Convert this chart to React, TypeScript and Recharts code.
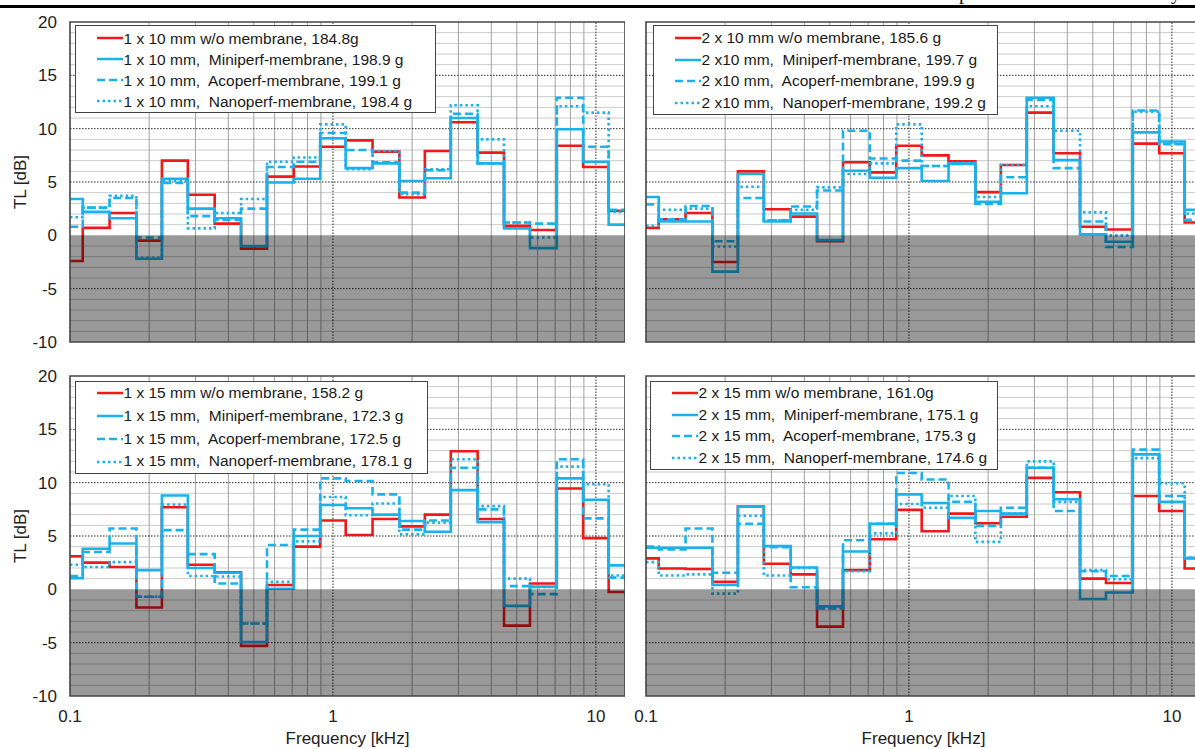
import {
  ComposedChart,
  Line,
  XAxis,
  YAxis,
  ReferenceLine,
  ReferenceArea,
  Legend,
  Label,
} from 'recharts';

// third-octave band centre frequencies [kHz]
const BANDS = [0.1, 0.125, 0.16, 0.2, 0.25, 0.315, 0.4, 0.5, 0.63, 0.8, 1, 1.25, 1.6, 2, 2.5, 3.15, 4, 5, 6.3, 8, 10, 12.5];
const X_DOMAIN: [number, number] = [0.1, 12.9];
const Y_DOMAIN: [number, number] = [-10, 20];
const X_TICKS = [0.1, 1, 10];
const X_TICK_LABELS = ['0.1', '1', '10'];
const X_MINOR = [0.2, 0.3, 0.4, 0.5, 0.6, 0.7, 0.8, 0.9, 2, 3, 4, 5, 6, 7, 8, 9];
const Y_TICKS = [-10, -5, 0, 5, 10, 15, 20];
const Y_MAJOR = [-5, 5, 10, 15];
const Y_MINOR = [-9, -8, -7, -6, -4, -3, -2, -1, 1, 2, 3, 4, 6, 7, 8, 9, 11, 12, 13, 14, 16, 17, 18, 19];

// 1 x 10 mm
const A_NAMES = [
  '1 x 10 mm w/o membrane, 184.8g',
  '1 x 10 mm,  Miniperf-membrane, 198.9 g',
  '1 x 10 mm,  Acoperf-membrane, 199.1 g',
  '1 x 10 mm,  Nanoperf-membrane, 198.4 g',
];
const A_RED = [-2.4, 0.7, 2.1, -0.5, 7.0, 3.8, 1.1, -1.25, 5.5, 6.45, 8.3, 8.9, 7.85, 3.55, 7.9, 10.6, 7.75, 0.9, 0.5, 8.4, 6.4, 2.3];
const A_MINI = [3.4, 2.2, 1.6, -2.2, 5.3, 2.5, 1.6, -1.0, 4.95, 5.3, 9.1, 6.3, 6.75, 5.1, 5.35, 11.0, 6.75, 0.65, -1.2, 9.95, 6.9, 1.0];
const A_ACO = [0.8, 2.6, 3.5, -0.2, 4.9, 1.8, 1.45, 2.5, 6.4, 6.9, 9.6, 8.0, 6.85, 4.0, 6.1, 11.4, 6.75, 1.2, 1.1, 12.9, 8.3, 2.4];
const A_NANO = [1.7, 2.6, 3.7, -2.1, 5.1, 0.65, 2.1, 3.4, 6.9, 7.3, 10.4, 6.2, 7.9, 3.85, 6.2, 12.2, 9.0, 1.2, -0.2, 12.1, 11.5, 2.2];

// 2 x 10 mm
const B_NAMES = [
  '2 x 10 mm w/o membrane, 185.6 g',
  '2 x10 mm,  Miniperf-membrane, 199.7 g',
  '2 x10 mm,  Acoperf-membrane, 199.9 g',
  '2 x10 mm,  Nanoperf-membrane, 199.2 g',
];
const B_RED = [0.7, 1.5, 2.1, -2.5, 6.0, 2.45, 1.75, -0.55, 6.85, 5.9, 8.4, 7.5, 6.95, 4.05, 6.6, 11.5, 7.7, 0.8, 0.55, 8.6, 7.7, 1.2];
const B_MINI = [3.6, 1.3, 1.3, -3.4, 5.75, 1.3, 2.05, -0.45, 6.05, 5.4, 6.3, 5.1, 6.7, 3.15, 3.95, 12.9, 7.05, 0.1, -0.6, 9.65, 8.8, 2.4];
const B_ACO = [2.9, 1.5, 2.75, -0.55, 3.5, 1.4, 2.7, 4.2, 9.8, 7.2, 7.0, 6.5, 6.75, 2.95, 5.45, 12.7, 6.3, 1.3, -1.1, 11.7, 8.55, 1.45];
const B_NANO = [0.9, 2.4, 2.5, -1.05, 4.55, 1.4, 2.4, 4.5, 5.75, 6.75, 10.4, 6.5, 6.8, 3.6, 6.6, 12.1, 9.8, 2.15, 0.0, 11.6, 8.6, 2.05];

// 1 x 15 mm
const C_NAMES = [
  '1 x 15 mm w/o membrane, 158.2 g',
  '1 x 15 mm,  Miniperf-membrane, 172.3 g',
  '1 x 15 mm,  Acoperf-membrane, 172.5 g',
  '1 x 15 mm,  Nanoperf-membrane, 178.1 g',
];
const C_RED = [3.1, 2.5, 2.1, -1.7, 7.7, 2.3, 1.6, -5.3, 0.4, 4.0, 6.45, 5.1, 6.6, 5.9, 7.0, 12.95, 6.6, -3.4, 0.55, 9.45, 4.8, -0.25];
const C_MINI = [1.05, 3.8, 4.3, 1.8, 8.8, 2.0, 1.55, -4.95, 0.05, 5.0, 7.9, 7.6, 7.0, 6.4, 5.4, 9.3, 6.3, -1.55, 0.25, 10.4, 8.4, 2.25];
const C_ACO = [1.25, 3.5, 5.7, -0.7, 5.55, 3.3, 0.55, -3.2, 4.15, 5.6, 10.4, 10.15, 8.9, 5.6, 6.45, 11.4, 7.5, 0.3, -0.45, 12.2, 6.65, 1.1];
const C_NANO = [2.3, 2.1, 2.55, -0.7, 7.95, 1.25, 1.2, -3.2, 0.7, 4.5, 8.65, 6.95, 8.05, 5.15, 6.25, 12.2, 7.8, 1.0, 0.2, 11.5, 9.85, 1.3];

// 2 x 15 mm
const D_NAMES = [
  '2 x 15 mm w/o membrane, 161.0g',
  '2 x 15 mm,  Miniperf-membrane, 175.1 g',
  '2 x 15 mm,  Acoperf-membrane, 175.3 g',
  '2 x 15 mm,  Nanoperf-membrane, 174.6 g',
];
const D_RED = [2.9, 1.95, 1.9, 0.7, 7.75, 2.4, 1.4, -3.5, 1.8, 4.7, 7.45, 5.45, 7.1, 6.2, 6.8, 10.45, 9.1, 1.0, 0.6, 8.75, 7.35, 1.95];
const D_MINI = [3.9, 3.9, 3.9, 0.4, 7.75, 4.05, 2.05, -1.6, 3.55, 6.15, 8.9, 8.1, 6.7, 7.35, 7.1, 11.4, 8.45, -0.9, -0.3, 12.65, 8.2, 2.9];
const D_ACO = [4.0, 3.75, 5.7, 1.55, 6.15, 3.95, 0.2, -1.8, 4.6, 6.15, 10.9, 10.3, 8.2, 5.95, 7.65, 11.4, 7.35, 1.7, 1.25, 13.1, 8.75, 2.95];
const D_NANO = [2.55, 1.3, 1.4, -0.4, 6.9, 1.3, 2.0, -1.8, 1.7, 5.25, 8.0, 7.65, 8.75, 4.45, 7.1, 12.0, 8.2, 1.8, 0.95, 12.3, 9.95, 2.95];

const RED = '#f01818';
const BLUE = '#1ab2ec';
const FONT = '"Liberation Sans", Arial, Helvetica, sans-serif';

const SERIES = [
  { key: 'red', color: RED, dash: undefined },
  { key: 'mini', color: BLUE, dash: undefined },
  { key: 'aco', color: BLUE, dash: '8 4' },
  { key: 'nano', color: BLUE, dash: '2.5 3' },
];

// one row per band lower edge, last row closes the final band (stepAfter)
function stepRows(red: number[], mini: number[], aco: number[], nano: number[]) {
  const rows = BANDS.map((f, i) => ({
    f: i === 0 ? X_DOMAIN[0] : Math.sqrt(BANDS[i - 1] * f),
    red: red[i],
    mini: mini[i],
    aco: aco[i],
    nano: nano[i],
  }));
  const n = BANDS.length - 1;
  rows.push({ f: X_DOMAIN[1], red: red[n], mini: mini[n], aco: aco[n], nano: nano[n] });
  return rows;
}

interface LegendStyle {
  left: number;
  top: number;
  rowH: number;
  padTop: number;
  padRight: number;
}

function LegendBox({ names, st }: { names: string[]; st: LegendStyle }) {
  return (
    <div
      style={{
        background: '#fff',
        border: '1.5px solid #444',
        padding: `${st.padTop}px ${st.padRight}px 0 20.5px`,
        fontFamily: FONT,
        fontSize: 15.5,
        lineHeight: `${st.rowH}px`,
        color: '#1a1a1a',
        whiteSpace: 'pre',
      }}
    >
      {names.map((name, i) => (
        <div key={name} style={{ display: 'flex', alignItems: 'center', height: st.rowH }}>
          <svg width={26} height={6} style={{ marginRight: 1 }}>
            <line
              x1={0}
              y1={3}
              x2={26}
              y2={3}
              stroke={SERIES[i].color}
              strokeWidth={2.5}
              strokeDasharray={SERIES[i].dash}
            />
          </svg>
          <span>{name}</span>
        </div>
      ))}
    </div>
  );
}

interface PanelProps {
  left: number;
  top: number;
  names: string[];
  rows: ReturnType<typeof stepRows>;
  showY: boolean;
  showX: boolean;
  legend: LegendStyle;
}

function Panel({ left, top, names, rows, showY, showX, legend }: PanelProps) {
  const height = showX ? 395 : 360;
  return (
    <div style={{ position: 'absolute', left, top }}>
      <ComposedChart
        width={625}
        height={height}
        data={rows}
        margin={{ top: 22, right: 0, bottom: showX ? 0 : 18, left: showY ? 0 : 70 }}
      >
        <XAxis
          dataKey="f"
          type="number"
          scale="log"
          domain={X_DOMAIN}
          ticks={X_TICKS}
          allowDataOverflow
          hide={!showX}
          height={53}
          axisLine={false}
          tickLine={false}
          tickSize={8}
          tickMargin={6}
          tick={{ fontSize: 17, fill: '#222', fontFamily: FONT }}
          tickFormatter={(v: number) => X_TICK_LABELS[X_TICKS.indexOf(v)] ?? String(v)}
        >
          <Label
            value="Frequency [kHz]"
            position="insideBottom"
            offset={5}
            style={{ fontSize: 17, fill: '#222', fontFamily: FONT }}
          />
        </XAxis>
        <YAxis
          type="number"
          domain={Y_DOMAIN}
          ticks={Y_TICKS}
          allowDataOverflow
          hide={!showY}
          width={70}
          axisLine={false}
          tickLine={false}
          tickSize={8}
          tickMargin={5}
          tick={{ fontSize: 17, fill: '#222', fontFamily: FONT }}
        >
          <Label
            value="TL [dB]"
            angle={-90}
            position="insideLeft"
            offset={20}
            style={{ fontSize: 17, fill: '#222', fontFamily: FONT, textAnchor: 'middle' }}
          />
        </YAxis>

        {Y_MINOR.map((v) => (
          <ReferenceLine key={`ym${v}`} y={v} stroke="#cacaca" strokeWidth={1} zIndex={-100} />
        ))}
        {X_MINOR.map((v) => (
          <ReferenceLine key={`xm${v}`} x={v} stroke="#a0a0a0" strokeWidth={1} zIndex={-100} />
        ))}
        {Y_MAJOR.map((v) => (
          <ReferenceLine key={`yM${v}`} y={v} stroke="#2a2a2a" strokeWidth={1} strokeDasharray="1.5 1.5" zIndex={-90} />
        ))}
        {[1, 10].map((v) => (
          <ReferenceLine key={`xM${v}`} x={v} stroke="#2a2a2a" strokeWidth={1} strokeDasharray="1.5 1.5" zIndex={-90} />
        ))}

        {SERIES.map((s) => (
          <Line
            key={s.key}
            dataKey={s.key}
            type="stepAfter"
            stroke={s.color}
            strokeWidth={2.6}
            strokeDasharray={s.dash}
            dot={false}
            activeDot={false}
            isAnimationActive={false}
          />
        ))}

        <ReferenceArea
          x1={X_DOMAIN[0]}
          x2={X_DOMAIN[1]}
          y1={-10}
          y2={0}
          fill="#000"
          fillOpacity={0.4}
          stroke="none"
          zIndex={450}
        />
        <ReferenceArea
          x1={X_DOMAIN[0]}
          x2={X_DOMAIN[1]}
          y1={Y_DOMAIN[0]}
          y2={Y_DOMAIN[1]}
          fill="none"
          fillOpacity={0}
          stroke="#454545"
          strokeWidth={1.6}
          zIndex={460}
        />
        <Legend
          layout="vertical"
          align="center"
          verticalAlign="middle"
          wrapperStyle={{ left: legend.left, top: legend.top, width: 'auto' }}
          content={() => <LegendBox names={names} st={legend} />}
        />
      </ComposedChart>
    </div>
  );
}

export default function App() {
  return (
    <div
      style={{
        position: 'absolute',
        left: 0,
        top: 0,
        width: 1195,
        height: 749,
        overflow: 'hidden',
        background: '#fff',
        fontFamily: FONT,
      }}
    >
      <svg width={1195} height={12} style={{ position: 'absolute', left: 0, top: 0 }}>
        <text x={959} y={-1} fontFamily='"Liberation Serif", serif' fontSize={20} fill="#111">p</text>
        <text x={1171} y={-1} fontFamily='"Liberation Serif", serif' fontSize={20} fill="#111">y</text>
        <line x1={0} y1={6.5} x2={1195} y2={6.5} stroke="#000" strokeWidth={3} />
      </svg>
      <Panel
        left={0}
        top={0}
        names={A_NAMES}
        rows={stepRows(A_RED, A_MINI, A_ACO, A_NANO)}
        showY
        showX={false}
        legend={{ left: 75, top: 25, rowH: 21, padTop: 1.5, padRight: 23 }}
      />
      <Panel
        left={576}
        top={0}
        names={B_NAMES}
        rows={stepRows(B_RED, B_MINI, B_ACO, B_NANO)}
        showY={false}
        showX={false}
        legend={{ left: 77, top: 25, rowH: 21.7, padTop: 1, padRight: 11 }}
      />
      <Panel
        left={0}
        top={354}
        names={C_NAMES}
        rows={stepRows(C_RED, C_MINI, C_ACO, C_NANO)}
        showY
        showX
        legend={{ left: 75, top: 27, rowH: 22.8, padTop: 0, padRight: 15 }}
      />
      <Panel
        left={576}
        top={354}
        names={D_NAMES}
        rows={stepRows(D_RED, D_MINI, D_ACO, D_NANO)}
        showY={false}
        showX
        legend={{ left: 74, top: 27, rowH: 21.7, padTop: 0, padRight: 10 }}
      />
    </div>
  );
}
